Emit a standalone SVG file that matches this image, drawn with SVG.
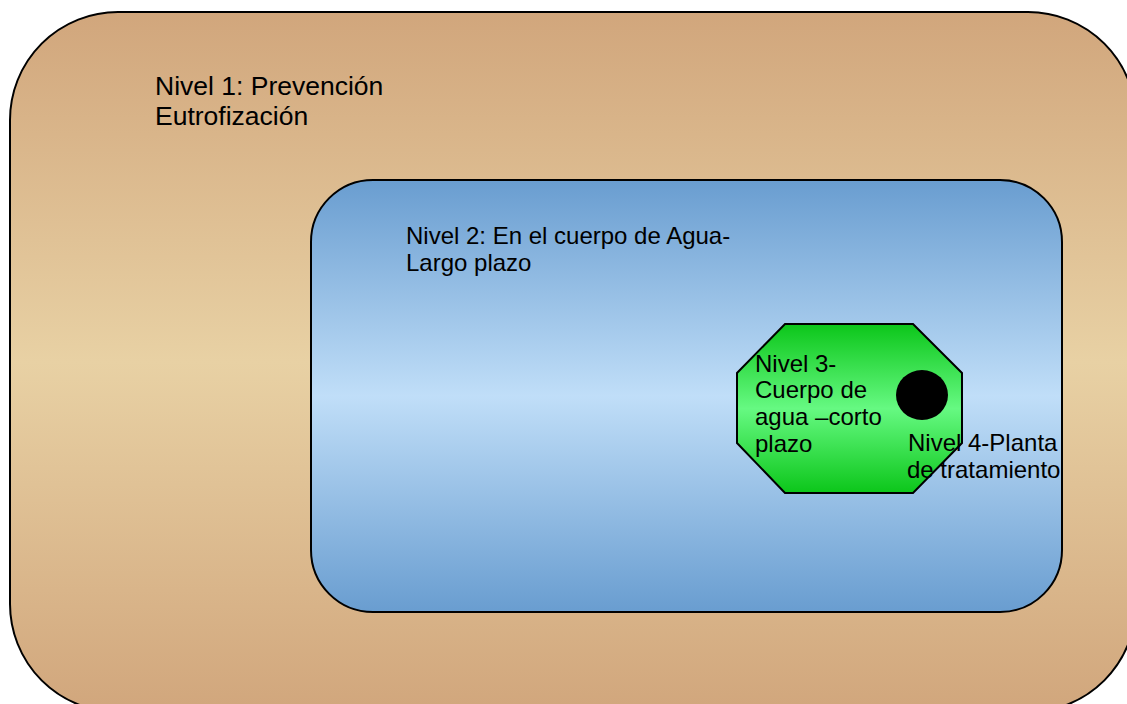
<svg xmlns="http://www.w3.org/2000/svg" width="1127" height="704" viewBox="0 0 1127 704">
  <defs>
    <linearGradient id="gTan" x1="0" y1="0" x2="0" y2="1">
      <stop offset="0" stop-color="#D1A67C"/>
      <stop offset="0.5" stop-color="#E8D1A4"/>
      <stop offset="1" stop-color="#D1A67C"/>
    </linearGradient>
    <linearGradient id="gBlue" x1="0" y1="0" x2="0" y2="1">
      <stop offset="0" stop-color="#699DD0"/>
      <stop offset="0.5" stop-color="#C0DEF8"/>
      <stop offset="1" stop-color="#699DD0"/>
    </linearGradient>
    <linearGradient id="gGreen" x1="0" y1="0" x2="0" y2="1">
      <stop offset="0" stop-color="#0CC61A"/>
      <stop offset="0.5" stop-color="#66F982"/>
      <stop offset="1" stop-color="#0CC61A"/>
    </linearGradient>
  </defs>
  <style>
    .shape { stroke: #000; stroke-width: 2; }
    .t { font-family: "Liberation Sans", Arial, sans-serif; fill: #000; }
  </style>
  <g id="nivel1">
    <rect class="shape" x="10" y="12" width="1126" height="700" rx="108" ry="108" fill="url(#gTan)"/>
    <text class="t" font-size="26.5" x="155" y="95">Nivel 1: Prevención</text>
    <text class="t" font-size="26.5" x="155" y="125">Eutrofización</text>
  </g>
  <g id="nivel2">
    <rect class="shape" x="311" y="180" width="751" height="432" rx="62" ry="62" fill="url(#gBlue)"/>
    <text class="t" font-size="24" x="406" y="244">Nivel 2: En el cuerpo de Agua-</text>
    <text class="t" font-size="24" x="406" y="271">Largo plazo</text>
  </g>
  <g id="nivel3">
    <polygon class="shape" stroke-width="1.5" points="785,324 913,324 962,373 962,443 913,493 785,493 737,443 737,373" fill="url(#gGreen)"/>
    <text class="t" font-size="24" x="755" y="372">Nivel 3-</text>
    <text class="t" font-size="24" x="755" y="398">Cuerpo de</text>
    <text class="t" font-size="24" x="755" y="425">agua –corto</text>
    <text class="t" font-size="24" x="755" y="452">plazo</text>
  </g>
  <g id="nivel4">
    <ellipse cx="922" cy="395" rx="26" ry="25" fill="#000"/>
    <text class="t" font-size="24" x="908" y="451">Nivel 4-Planta</text>
    <text class="t" font-size="24" x="907" y="478">de tratamiento</text>
  </g>
  <g id="connectors"></g>
</svg>
